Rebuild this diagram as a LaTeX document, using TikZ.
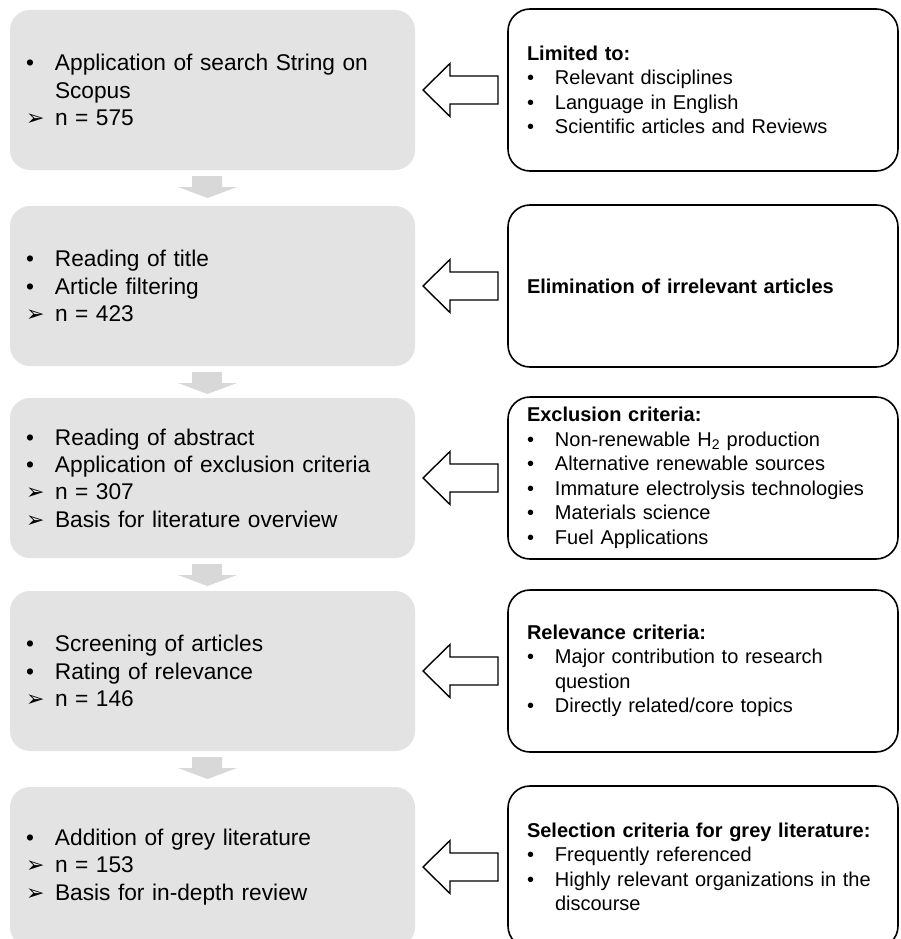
\documentclass[tikz,border=0pt]{standalone}
\usepackage{fontspec}
\setmainfont{Liberation Sans}
\newfontfamily\dingfont{DejaVu Sans}
\usepackage{tikz}
\usetikzlibrary{calc}

\definecolor{boxgrey}{RGB}{227,227,227}
\definecolor{arrowgrey}{RGB}{216,216,216}
\newcommand{\lfont}{\fontsize{22.7}{27.3}\selectfont}
\newcommand{\rfont}{\fontsize{20}{24.5}\selectfont}
\newcommand{\lbul}{\makebox[30pt][l]{\hspace{1pt}•}}
\newcommand{\larr}{\makebox[30pt][l]{\hspace{1pt}{\dingfont\fontsize{22}{22}\selectfont ➢}}}
\newcommand{\rbul}{\makebox[28pt][l]{•}}

\begin{document}
\begin{tikzpicture}[x=1pt, y=-1pt,
        stepbox/.style={fill=boxgrey, rounded corners=20pt, minimum width=405pt,
            minimum height=160pt, inner xsep=15pt, inner ysep=0pt, outer sep=0pt,
            text width=375pt, align=left, font=\lfont, anchor=west},
        critbox/.style={draw=black, line width=1.6pt, rounded corners=22pt,
            minimum width=390pt, minimum height=162pt, inner xsep=19pt, inner ysep=0pt,
            outer sep=0pt, text width=352pt, align=left, font=\rfont, anchor=west},
        hollow/.style={draw=black, line width=1.4pt, fill=white, line join=miter},
        downarr/.style={fill=arrowgrey}]
        \useasboundingbox (0,0) rectangle (901,939);
        \clip (0,0) rectangle (901,939);
        \coordinate (A) at (10,90);
        \coordinate (B) at (10,286);
        \coordinate (C) at (10,478);
        \coordinate (D) at (10,671);
        \coordinate (E) at (10,867);
        % search steps
        \node[stepbox] (s1) at (A) {\lbul Application of search String on\\
            \hspace*{30pt}Scopus\\ \larr n = 575};
        \node[stepbox] (s2) at (B) {\lbul Reading of title\\ \lbul Article filtering\\
            \larr n = 423};
        \node[stepbox] (s3) at (C) {\lbul Reading of abstract\\
            \lbul Application of exclusion criteria\\ \larr n = 307\\
            \larr Basis for literature overview};
        \node[stepbox] (s4) at (D) {\lbul Screening of articles\\ \lbul Rating of relevance\\
            \larr n = 146};
        \node[stepbox] (s5) at (E) {\lbul Addition of grey literature\\ \larr n = 153\\
            \larr Basis for in-depth review};
        % criteria
        \node[critbox] (c1) at ($(A)+(498,0)$) {\textbf{Limited to:}\\
            \rbul Relevant disciplines\\ \rbul Language in English\\
            \rbul Scientific articles and Reviews};
        \node[critbox] (c2) at ($(B)+(498,0)$) {\textbf{Elimination of irrelevant articles}};
        \node[critbox] (c3) at ($(C)+(498,0)$) {\textbf{Exclusion criteria:}\\
            \rbul Non-renewable H\textsubscript{2} production\\
            \rbul Alternative renewable sources\\
            \rbul Immature electrolysis technologies\\
            \rbul Materials science\\ \rbul Fuel Applications};
        \node[critbox] (c4) at ($(D)+(498,0)$) {\textbf{Relevance criteria:}\\
            \rbul Major contribution to research\\ \hspace*{28pt}question\\
            \rbul Directly related/core topics};
        \node[critbox] (c5) at ($(E)+(498,0)$) {\textbf{Selection criteria for grey literature:}\\
            \rbul Frequently referenced\\ \rbul Highly relevant organizations in the\\
            \hspace*{28pt}discourse};
        \foreach \i in {1,...,5}
            \draw[hollow] ($(c\i.west)+(-10,-14)$) -- ++(-48,0) -- ++(0,-12.5) --
                ++(-27,26.5) -- ++(27,26.5) -- ++(0,-12.5) -- ++(48,0) -- cycle;
        \foreach \i in {1,...,4}
            \fill[downarr] ($(s\i.south)+(-20.5,6)$) -- ++(30,0) -- ++(0,11) --
                ++(15,0) -- ++(-29.5,11) -- ++(-29.5,-11) -- ++(14,0) -- cycle;
    \end{tikzpicture}
\end{document}
